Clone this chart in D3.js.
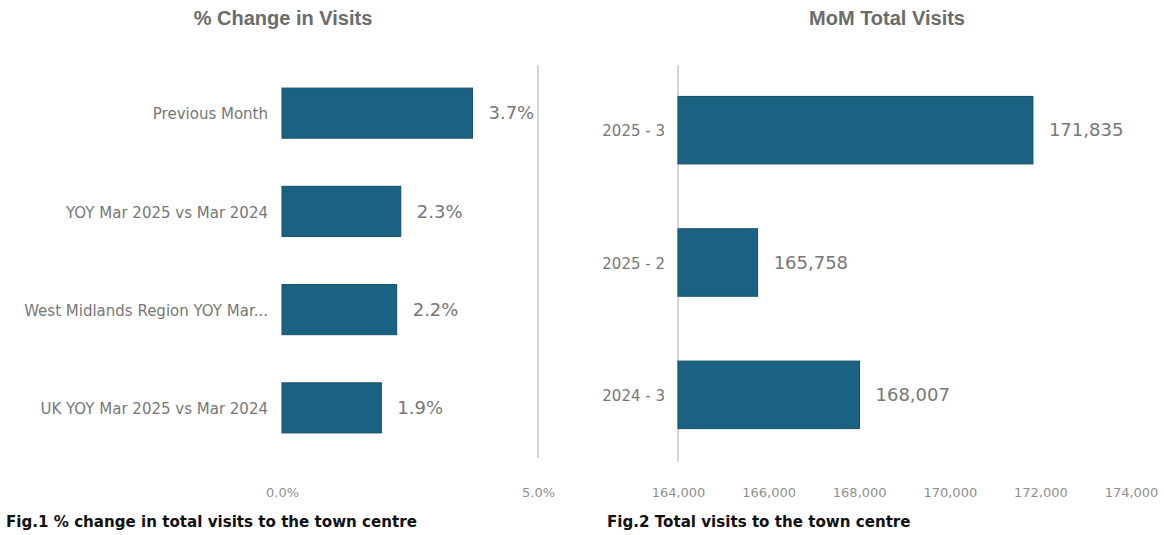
<!DOCTYPE html>
<html>
<head>
<meta charset="utf-8">
<script src="https://cdn.jsdelivr.net/npm/d3@7"></script>
<style>
  body { margin: 0; background: #fff; }
  svg { display: block; }
</style>
</head>
<body>
<div id="app"></div>
<script>
// Fig.1 data
const changeCategories = ["Previous Month", "YOY Mar 2025 vs Mar 2024", "West Midlands Region YOY Mar...", "UK YOY Mar 2025 vs Mar 2024"];
const changeValues = [3.72, 2.32, 2.24, 1.94];
const changeTicks = [0, 5];

// Fig.2 data
const visitCategories = ["2025 - 3", "2025 - 2", "2024 - 3"];
const visitValues = [171835, 165758, 168007];
const visitTicks = [164000, 166000, 168000, 170000, 172000, 174000];

const width = 1164, height = 535;
const barFill = "#1b6282", barStroke = "#154f69";
const labelFont = "'DejaVu Sans', sans-serif";

const svg = d3.select("#app").append("svg")
    .attr("width", width)
    .attr("height", height);

const drawPanel = opts => {
    const g = svg.append("g");
    const x = d3.scaleLinear().domain(opts.domain).range(opts.xRange);
    const y = d3.scaleBand().domain(opts.categories).range(opts.yRange).paddingInner(0.49).paddingOuter(0.245);

    // title
    g.append("text")
        .attr("x", opts.titleX).attr("y", 25)
        .attr("text-anchor", "middle")
        .style("font-family", "'Liberation Sans', Arial, sans-serif")
        .style("font-weight", "bold")
        .style("font-size", "20px")
        .style("fill", "#6b6b6b")
        .text(opts.title);

    // reference line
    g.append("line")
        .attr("x1", x(opts.lineAt)).attr("x2", x(opts.lineAt))
        .attr("y1", opts.yRange[0] + 1).attr("y2", opts.yRange[1] + 1)
        .attr("stroke", "#aaa").attr("stroke-width", 1);

    // bars
    g.selectAll(".bar")
        .data(opts.values)
        .join("rect")
            .attr("x", x(opts.domain[0]))
            .attr("y", (d, i) => y(opts.categories[i]))
            .attr("width", d => x(d) - x(opts.domain[0]))
            .attr("height", y.bandwidth())
            .attr("fill", barFill)
            .attr("stroke", barStroke)
            .attr("stroke-width", 1);

    // category labels
    g.selectAll(".cat")
        .data(opts.categories)
        .join("text")
            .attr("x", x(opts.domain[0]) - opts.catGap)
            .attr("y", d => y(d) + y.bandwidth() / 2 + 1)
            .attr("dy", "0.35em")
            .attr("text-anchor", "end")
            .style("font-family", labelFont)
            .style("font-size", "15px")
            .style("fill", "#777")
            .text(d => d);

    // value labels
    g.selectAll(".val")
        .data(opts.values)
        .join("text")
            .attr("x", d => x(d) + 16)
            .attr("y", (d, i) => y(opts.categories[i]) + y.bandwidth() / 2)
            .attr("dy", "0.35em")
            .style("font-family", labelFont)
            .style("font-size", "18px")
            .style("fill", "#777")
            .text(opts.valueFormat);

    // x axis tick labels
    const axis = g.append("g")
        .attr("transform", "translate(0,488)")
        .call(d3.axisBottom(x).tickValues(opts.ticks).tickFormat(opts.tickFormat).tickSize(0).tickPadding(0));
    axis.select(".domain").remove();
    axis.selectAll("text")
        .style("font-family", labelFont)
        .style("font-size", "13px")
        .style("fill", "#8f8f8f");

    // caption
    g.append("text")
        .attr("x", opts.captionX).attr("y", 527)
        .style("font-family", labelFont)
        .style("font-weight", "bold")
        .style("font-size", "15.1px")
        .style("fill", "#111")
        .text(opts.caption);
};

drawPanel({
    title: "% Change in Visits", titleX: 283,
    categories: changeCategories, values: changeValues,
    domain: [0, 5], xRange: [282, 538], yRange: [64, 457],
    lineAt: 5, ticks: changeTicks, catGap: 14,
    tickFormat: d => d.toFixed(1) + "%",
    valueFormat: d => d.toFixed(1) + "%",
    caption: "Fig.1 % change in total visits to the town centre", captionX: 6
});

drawPanel({
    title: "MoM Total Visits", titleX: 887,
    categories: visitCategories, values: visitValues,
    domain: [164000, 174000], xRange: [678, 1131], yRange: [64, 461],
    lineAt: 164000, ticks: visitTicks, catGap: 13,
    tickFormat: d3.format(","),
    valueFormat: d3.format(","),
    caption: "Fig.2 Total visits to the town centre", captionX: 607
});
</script>
</body>
</html>
